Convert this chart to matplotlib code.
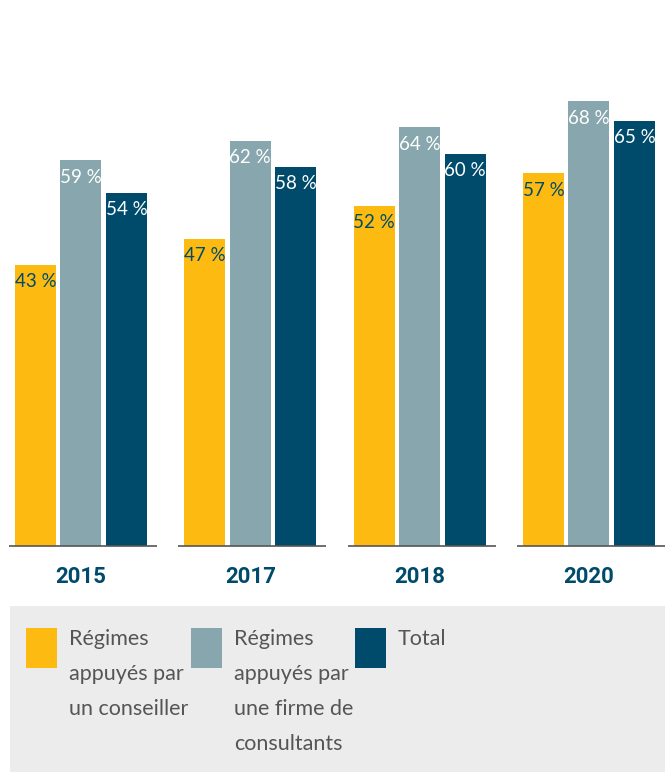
import matplotlib.pyplot as plt
import numpy as np
from matplotlib.patches import Rectangle

years = ['2015', '2017', '2018', '2020']
conseiller = [43, 47, 52, 57]
firme = [59, 62, 64, 68]
total = [54, 58, 60, 65]
legend_labels = ['Régimes\nappuyés par\nun conseiller',
                 'Régimes\nappuyés par\nune firme de\nconsultants',
                 'Total']

c_yellow = '#FDBB11'
c_grey = '#87A6AD'
c_navy = '#004B6B'

W, H = 669, 772
fig = plt.figure(figsize=(W / 100, H / 100), dpi=100)

# axes: bottom at baseline pixel 546, top at 0
ax = fig.add_axes([0, (H - 546) / H, 1, 546 / H])
px_per_pct = 6.54
ax.set_ylim(0, 546 / px_per_pct)
spacing = 169.3
ax.set_xlim(-81 / spacing, (W - 81) / spacing)
ax.axis('off')

x = np.arange(len(years))
bw = 41 / spacing
off = 45.5 / spacing
series = [(conseiller, c_yellow, c_navy), (firme, c_grey, 'white'), (total, c_navy, 'white')]
for k, (vals, col, tcol) in enumerate(series):
    xs = x + (k - 1) * off
    ax.bar(xs, vals, width=bw, color=col, zorder=2)
    for xi, v in zip(xs, vals):
        ax.text(xi, v - 17 / px_per_pct, f'{v} %', ha='center', va='center',
                color=tcol, fontsize=13.5, family='Lato', zorder=3)

for xi in x:
    ax.plot([xi - 72 / spacing, xi + 76 / spacing], [0, 0], color='#555555', lw=1.2,
            zorder=3, solid_capstyle='butt', clip_on=False)

# étiquettes des années
for xi, yr in zip(x, years):
    fx = (81 + xi * spacing) / W
    fig.text(fx, 1 - 577 / H, yr, ha='center', va='center', color=c_navy,
             fontsize=16, fontweight='bold', family='Roboto')

# légende
fig.patches.append(Rectangle((10 / W, 0), 655 / W, (H - 606) / H, transform=fig.transFigure,
                             facecolor='#ECECEC', edgecolor='none', zorder=0))
sw_x = [26, 191, 355]
for sx, col, lab in zip(sw_x, [c_yellow, c_grey, c_navy], legend_labels):
    fig.patches.append(Rectangle((sx / W, 1 - 668 / H), 31 / W, 40 / H, transform=fig.transFigure,
                                 facecolor=col, edgecolor='none', zorder=1))
    fig.text((sx + 43) / W, 1 - 629 / H, lab, ha='left', va='top', color='#555555',
             fontsize=15.5, family='Lato', linespacing=1.93)

fig.savefig('out.png', dpi=100)
